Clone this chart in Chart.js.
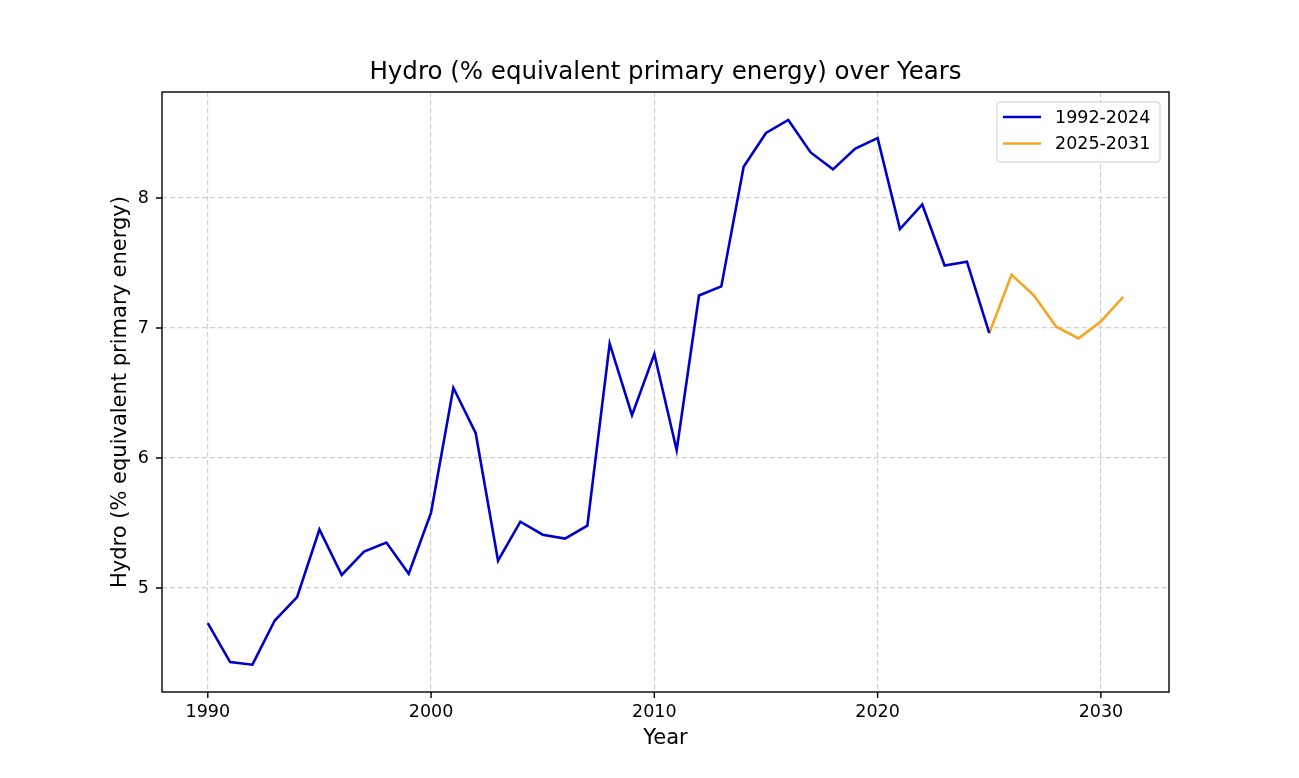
<!DOCTYPE html>
<html>
<head>
    <title>Hydro (% equivalent primary energy) over Years</title>
    <script src="https://cdn.jsdelivr.net/npm/chart.js"></script>
    <style>
        html, body {
            margin: 0;
            padding: 0;
            background: #fff;
        }
        #wrap {
            width: 1299px;
            height: 778px;
        }
    </style>
</head>
<body>
    <div id="wrap">
        <canvas id="hydroChart"></canvas>
    </div>

    <script>
        // Values
        const histYears = [1990, 1991, 1992, 1993, 1994, 1995, 1996, 1997, 1998, 1999,
                           2000, 2001, 2002, 2003, 2004, 2005, 2006, 2007, 2008, 2009,
                           2010, 2011, 2012, 2013, 2014, 2015, 2016, 2017, 2018, 2019,
                           2020, 2021, 2022, 2023, 2024, 2025];
        const histValues = [4.73, 4.43, 4.41, 4.75, 4.93, 5.45, 5.10, 5.28, 5.35, 5.11,
                            5.58, 6.54, 6.19, 5.21, 5.51, 5.41, 5.38, 5.48, 6.88, 6.33,
                            6.80, 6.06, 7.25, 7.32, 8.24, 8.50, 8.60, 8.35, 8.22, 8.38,
                            8.46, 7.76, 7.95, 7.48, 7.51, 6.96];
        const forecastYears = [2025, 2026, 2027, 2028, 2029, 2030, 2031];
        const forecastValues = [6.96, 7.41, 7.25, 7.01, 6.92, 7.05, 7.24];

        const xTicks = [1990, 2000, 2010, 2020, 2030];
        const yTicks = [5, 6, 7, 8];
        const seriesNames = ['1992-2024', '2025-2031'];
        const seriesColors = ['#0000CD', '#F5A623'];

        const FONT = "'DejaVu Sans', sans-serif";

        const toPoints = (xs, ys) => xs.map((x, i) => ({ x: x, y: ys[i] }));

        // frame, black tick marks and the boxed legend inside the plot
        const framePlugin = {
            id: 'frame',
            afterDraw(chart) {
                const ctx = chart.ctx;
                const a = chart.chartArea;
                const xs = chart.scales.x;
                const ys = chart.scales.y;
                ctx.save();
                ctx.strokeStyle = '#000';
                ctx.lineWidth = 1.4;
                ctx.strokeRect(a.left, a.top, a.right - a.left, a.bottom - a.top);

                ctx.beginPath();
                xTicks.forEach(t => {
                    const px = xs.getPixelForValue(t);
                    ctx.moveTo(px, a.bottom);
                    ctx.lineTo(px, a.bottom + 6);
                });
                yTicks.forEach(t => {
                    const py = ys.getPixelForValue(t);
                    ctx.moveTo(a.left, py);
                    ctx.lineTo(a.left - 6, py);
                });
                ctx.stroke();

                // legend
                const bx = 997, by = 102, bw = 163, bh = 60;
                ctx.fillStyle = 'rgba(255,255,255,0.85)';
                ctx.strokeStyle = '#cccccc';
                ctx.lineWidth = 1;
                ctx.beginPath();
                ctx.roundRect(bx, by, bw, bh, 3);
                ctx.fill();
                ctx.stroke();

                ctx.font = '17.5px ' + FONT;
                ctx.textBaseline = 'middle';
                ctx.textAlign = 'left';
                seriesNames.forEach((name, i) => {
                    const ly = by + 15 + i * 26.5;
                    ctx.strokeStyle = seriesColors[i];
                    ctx.lineWidth = 2.6;
                    ctx.beginPath();
                    ctx.moveTo(bx + 6, ly);
                    ctx.lineTo(bx + 44, ly);
                    ctx.stroke();
                    ctx.fillStyle = '#000';
                    ctx.fillText(name, bx + 58, ly + 1);
                });
                ctx.restore();
            }
        };

        new Chart(document.getElementById('hydroChart'), {
            type: 'line',
            data: {
                datasets: [{
                    label: seriesNames[0],
                    data: toPoints(histYears, histValues),
                    borderColor: seriesColors[0],
                    borderWidth: 2.6,
                    pointRadius: 0,
                    tension: 0,
                    fill: false
                }, {
                    label: seriesNames[1],
                    data: toPoints(forecastYears, forecastValues),
                    borderColor: seriesColors[1],
                    borderWidth: 2.6,
                    pointRadius: 0,
                    tension: 0,
                    fill: false
                }]
            },
            options: {
                responsive: true,
                maintainAspectRatio: false,
                animation: false,
                layout: {
                    padding: { left: 0, right: 130, top: 0, bottom: 0 }
                },
                plugins: {
                    legend: { display: false },
                    tooltip: { enabled: false },
                    title: {
                        display: true,
                        fullSize: false,
                        text: 'Hydro (% equivalent primary energy) over Years',
                        color: '#000',
                        font: { family: FONT, size: 24.5, weight: 'normal' },
                        padding: { top: 58.3, bottom: 4.3 }
                    }
                },
                scales: {
                    x: {
                        type: 'linear',
                        min: 1987.95,
                        max: 2033.05,
                        afterBuildTicks: scale => {
                            scale.ticks = xTicks.map(v => ({ value: v }));
                        },
                        afterFit: scale => { scale.height = 86; },
                        ticks: {
                            color: '#000',
                            padding: 10,
                            maxRotation: 0,
                            font: { family: FONT, size: 17.5 },
                            callback: v => String(v)
                        },
                        grid: {
                            color: '#d0d0d0',
                            lineWidth: 1.2,
                            drawTicks: false
                        },
                        border: { display: false, dash: [5, 3] },
                        title: {
                            display: true,
                            text: 'Year',
                            color: '#000',
                            font: { family: FONT, size: 21 },
                            padding: { top: 0, bottom: 26.4 }
                        }
                    },
                    y: {
                        min: 4.2,
                        max: 8.815,
                        afterBuildTicks: scale => {
                            scale.ticks = yTicks.map(v => ({ value: v }));
                        },
                        afterFit: scale => { scale.width = 162; },
                        ticks: {
                            color: '#000',
                            padding: 13,
                            font: { family: FONT, size: 17.5 },
                            callback: v => String(v)
                        },
                        grid: {
                            color: '#d0d0d0',
                            lineWidth: 1.2,
                            drawTicks: false
                        },
                        border: { display: false, dash: [5, 3] },
                        title: {
                            display: true,
                            text: 'Hydro (% equivalent primary energy)',
                            color: '#000',
                            font: { family: FONT, size: 21 },
                            padding: { top: 108.4, bottom: 0 }
                        }
                    }
                }
            },
            plugins: [framePlugin]
        });
    </script>
</body>
</html>
